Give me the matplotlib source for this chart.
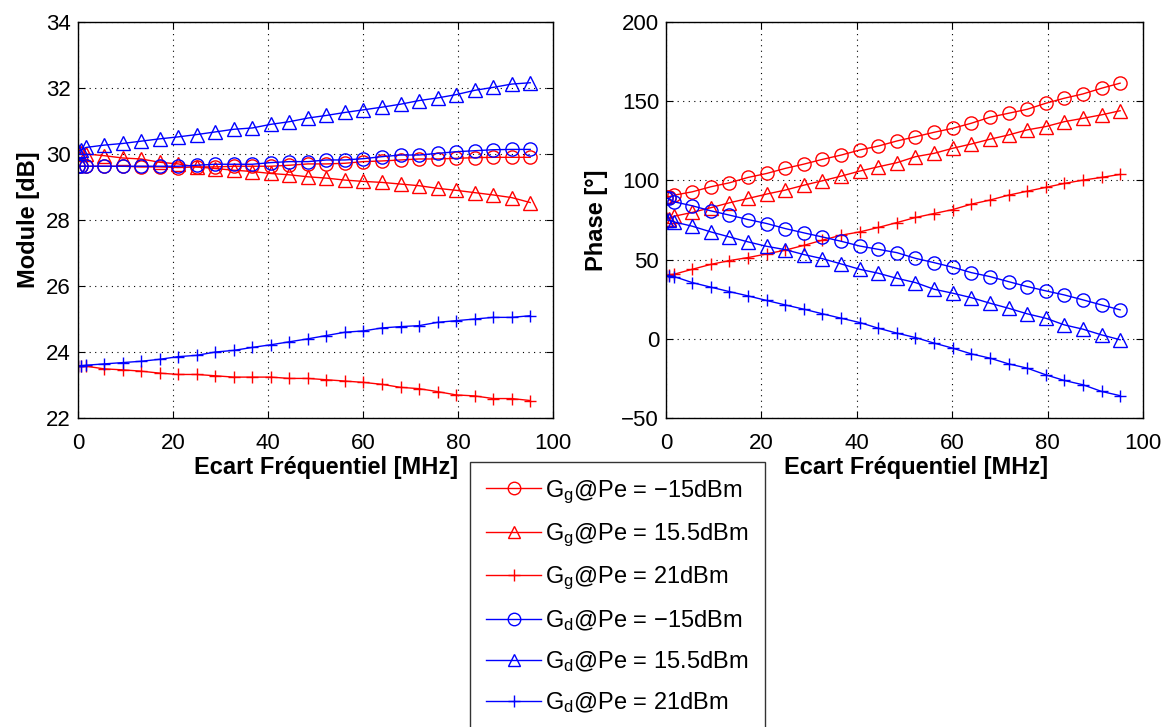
import matplotlib
matplotlib.use("Agg")
import matplotlib.pyplot as plt

plt.rcParams['font.family'] = ['Liberation Sans', 'DejaVu Sans']
plt.rcParams['mathtext.fontset'] = 'custom'
plt.rcParams['mathtext.rm'] = 'Liberation Sans'
plt.rcParams['mathtext.it'] = 'Liberation Sans'

freq = [0.1, 0.6, 1.7, 5.5, 9.4, 13.3, 17.2, 21.1, 25.0, 28.9, 32.8, 36.7, 40.6,
        44.5, 48.4, 52.3, 56.2, 60.1, 64.0, 67.9, 71.8, 75.7, 79.6, 83.5, 87.4, 91.3, 95.2]

mod_gg_m15 = [29.63, 29.63, 29.63, 29.63, 29.63, 29.61, 29.61, 29.59, 29.61, 29.61, 29.63, 29.63,
              29.63, 29.66, 29.70, 29.70, 29.72, 29.77, 29.79, 29.82, 29.85, 29.85, 29.87, 29.89,
              29.90, 29.90, 29.90]
mod_gg_155 = [30.05, 30.02, 30.00, 29.95, 29.88, 29.85, 29.75, 29.70, 29.61, 29.56, 29.51, 29.47,
              29.41, 29.37, 29.31, 29.27, 29.21, 29.17, 29.14, 29.09, 29.04, 28.96, 28.90, 28.83,
              28.76, 28.68, 28.53]
mod_gg_21 = [23.58, 23.58, 23.57, 23.49, 23.46, 23.42, 23.36, 23.32, 23.32, 23.28, 23.24, 23.24,
             23.24, 23.20, 23.20, 23.16, 23.12, 23.08, 23.02, 22.93, 22.89, 22.80, 22.70, 22.67,
             22.59, 22.59, 22.53]
mod_gd_m15 = [29.63, 29.63, 29.63, 29.63, 29.63, 29.63, 29.63, 29.63, 29.66, 29.69, 29.69, 29.69,
              29.74, 29.77, 29.77, 29.82, 29.82, 29.86, 29.92, 29.97, 29.97, 30.02, 30.07, 30.10,
              30.13, 30.14, 30.14]
mod_gd_155 = [30.08, 30.12, 30.20, 30.27, 30.32, 30.39, 30.46, 30.52, 30.59, 30.67, 30.75, 30.79,
              30.90, 30.98, 31.09, 31.17, 31.26, 31.34, 31.42, 31.51, 31.62, 31.70, 31.80, 31.93,
              32.02, 32.12, 32.16]
mod_gd_21 = [23.57, 23.58, 23.60, 23.64, 23.68, 23.72, 23.78, 23.86, 23.90, 24.00, 24.05, 24.14,
             24.22, 24.31, 24.40, 24.50, 24.60, 24.64, 24.73, 24.77, 24.80, 24.90, 24.95, 25.00,
             25.05, 25.05, 25.10]

ph_gg_m15 = [89.5, 89.7, 90.7, 92.8, 96.0, 98.5, 101.9, 104.4, 107.6, 110.3, 113.3, 116.0,
             119.2, 121.7, 124.9, 127.6, 130.4, 132.9, 136.1, 139.9, 142.4, 144.9, 148.7, 151.9,
             154.6, 158.2, 161.4]
ph_gg_155 = [75.5, 75.9, 77.4, 79.8, 82.8, 85.9, 88.6, 91.4, 93.9, 97.0, 99.8, 102.7,
             105.9, 108.6, 111.2, 115.0, 117.1, 120.3, 123.0, 126.0, 128.7, 131.9, 134.0, 137.1,
             139.2, 141.4, 144.0]
ph_gg_21 = [40.0, 40.5, 40.8, 43.9, 47.0, 49.4, 51.3, 53.6, 56.0, 59.0, 62.3, 65.4,
            67.5, 70.3, 73.4, 76.6, 79.1, 81.6, 85.0, 87.6, 90.7, 93.2, 95.6, 98.1,
            100.2, 101.9, 103.8]
ph_gd_m15 = [88.8, 88.6, 86.5, 84.0, 80.8, 78.1, 75.3, 72.8, 69.6, 66.9, 64.3, 61.6,
             58.6, 56.5, 54.4, 50.8, 48.1, 45.2, 41.8, 39.3, 36.1, 33.0, 30.3, 27.7,
             24.6, 21.4, 18.3]
ph_gd_155 = [75.0, 74.9, 73.8, 71.1, 67.5, 64.3, 61.2, 58.4, 56.3, 53.2, 50.6, 47.3,
             43.9, 41.4, 38.2, 35.5, 31.3, 28.8, 26.0, 22.5, 19.3, 15.8, 13.0, 8.8,
             6.1, 2.5, -0.6]
ph_gd_21 = [39.8, 39.7, 39.3, 35.5, 32.6, 29.8, 27.1, 24.2, 21.4, 18.7, 15.8, 13.0,
            10.3, 6.7, 3.6, 0.8, -2.7, -5.9, -9.5, -12.2, -15.8, -18.5, -22.7, -26.3,
            -29.0, -33.2, -35.9]

labels = [r'G$_\mathregular{g}$@Pe = −15dBm', r'G$_\mathregular{g}$@Pe = 15.5dBm',
          r'G$_\mathregular{g}$@Pe = 21dBm', r'G$_\mathregular{d}$@Pe = −15dBm',
          r'G$_\mathregular{d}$@Pe = 15.5dBm', r'G$_\mathregular{d}$@Pe = 21dBm']

styles = [('red', 'o'), ('red', '^'), ('red', '+'), ('blue', 'o'), ('blue', '^'), ('blue', '+')]

fig = plt.figure(figsize=(11.66, 7.27), dpi=100)
ax1 = fig.add_axes([0.0669, 0.425, 0.4074, 0.5447])
ax2 = fig.add_axes([0.5712, 0.425, 0.4091, 0.5447])

mods = [mod_gg_m15, mod_gg_155, mod_gg_21, mod_gd_m15, mod_gd_155, mod_gd_21]
phs = [ph_gg_m15, ph_gg_155, ph_gg_21, ph_gd_m15, ph_gd_155, ph_gd_21]

def msize(m):
    return 9 if m == '+' else 9.5

handles = []
for (c, m), y, lab in zip(styles, mods, labels):
    h, = ax1.plot(freq, y, color=c, marker=m, markersize=msize(m), markerfacecolor='none',
                  markeredgecolor=c, linewidth=1.0, markeredgewidth=1.0, label=lab)
    handles.append(h)
for (c, m), y in zip(styles, phs):
    ax2.plot(freq, y, color=c, marker=m, markersize=msize(m), markerfacecolor='none',
             markeredgecolor=c, linewidth=1.0, markeredgewidth=1.0)

for ax in (ax1, ax2):
    ax.set_xlim(0, 100)
    ax.set_xticks([0, 20, 40, 60, 80, 100])
    ax.grid(True, color='black', linestyle=(0, (1, 4)), linewidth=0.8)
    ax.tick_params(direction='in', top=True, right=True, labelsize=16, length=5)
    ax.tick_params(axis='x', pad=11)
    ax.tick_params(axis='y', pad=5)
    for s in ax.spines.values():
        s.set_linewidth(1.0)
    ax.set_xlabel('Ecart Fréquentiel [MHz]', fontsize=17, fontweight='bold')
    ax.xaxis.set_label_coords(0.5 + 11 / 475, -49 / 396)
    ax.xaxis.label.set_va('center')

ax1.set_ylim(22, 34)
ax1.set_yticks([22, 24, 26, 28, 30, 32, 34])
ax1.set_ylabel('Module [dB]', fontsize=17, fontweight='bold')
ax1.yaxis.label.set_va('center')
ax1.yaxis.set_label_coords(-50 / 475, 0.5)
ax2.set_ylim(-50, 200)
ax2.set_yticks([-50, 0, 50, 100, 150, 200])
ax2.set_yticklabels(['−50', '0', '50', '100', '150', '200'])
ax2.set_ylabel('Phase [°]', fontsize=17, fontweight='bold')
ax2.yaxis.label.set_va('center')
ax2.yaxis.set_label_coords(-70 / 477, 0.5)

leg = fig.legend(handles=handles, labels=labels, loc='upper left',
                 bbox_to_anchor=(0.403, 0.365), fontsize=17, frameon=True,
                 fancybox=False, edgecolor='black', handlelength=2.3,
                 labelspacing=0.68, borderpad=0.7, handletextpad=0.2, borderaxespad=0)
leg.get_frame().set_linewidth(1.0)
for lh in leg.legend_handles:
    lh.set_markersize(9)

fig.savefig('out.png', dpi=100)
